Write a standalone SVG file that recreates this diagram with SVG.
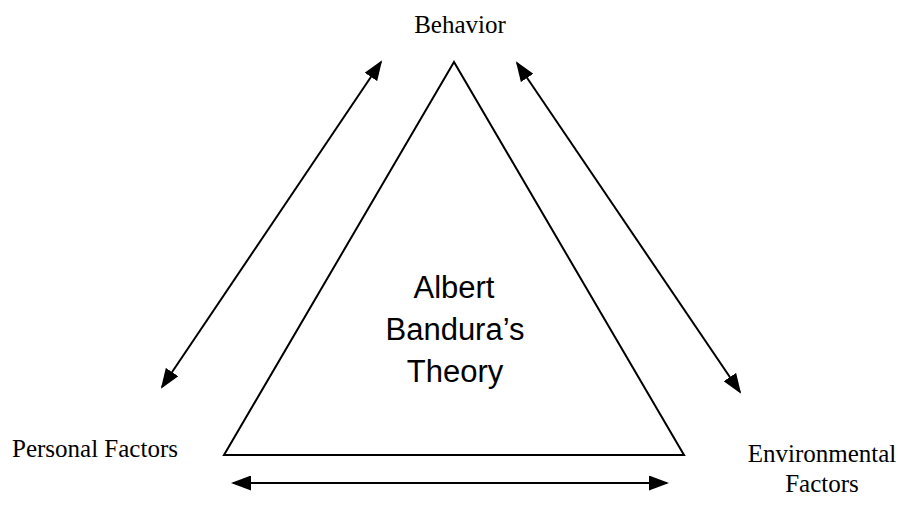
<svg xmlns="http://www.w3.org/2000/svg" width="904" height="509" viewBox="0 0 904 509">
<style>
.serif{font-family:"Liberation Serif","Times New Roman",serif;font-size:25px;fill:#000}
.sans{font-family:"Liberation Sans",Arial,sans-serif;font-size:31px;fill:#000;text-anchor:middle}
.ln{stroke:#000;stroke-width:2;fill:none}
</style>
<defs>
<marker id="ah2" viewBox="0 0 10 10" refX="9" refY="5" markerWidth="20" markerHeight="15" markerUnits="userSpaceOnUse" orient="auto-start-reverse" preserveAspectRatio="none">
<path d="M0,0 L10,5 L0,10 z" fill="#000"/>
</marker>
</defs>
<g id="triangle">
<polygon class="ln" points="454,62 224,455 684,455"/>
<text class="sans" x="454" y="298">Albert</text>
<text class="sans" x="455" y="340">Bandura’s</text>
<text class="sans" x="455" y="382">Theory</text>
</g>
<g id="behavior"><text class="serif" x="460" y="33" text-anchor="middle">Behavior</text></g>
<g id="personal"><text class="serif" x="12" y="457">Personal Factors</text></g>
<g id="environmental">
<text class="serif" x="822" y="462" text-anchor="middle">Environmental</text>
<text class="serif" x="822" y="492" text-anchor="middle">Factors</text>
</g>
<g id="connectors">
<line class="ln" x1="162" y1="387" x2="381" y2="62" marker-start="url(#ah2)" marker-end="url(#ah2)"/>
<line class="ln" x1="517" y1="63" x2="740" y2="392" marker-start="url(#ah2)" marker-end="url(#ah2)"/>
<line class="ln" x1="233" y1="483" x2="667" y2="483" marker-start="url(#ah2)" marker-end="url(#ah2)"/>
</g>
</svg>
